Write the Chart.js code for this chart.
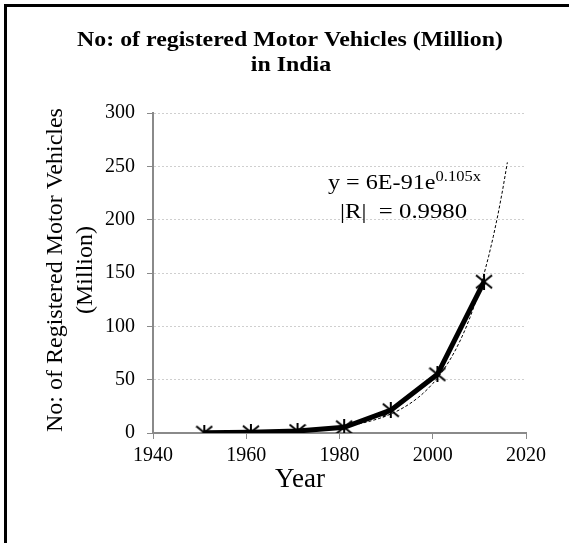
<!DOCTYPE html>
<html>
<head>
<meta charset="utf-8">
<script src="https://cdn.jsdelivr.net/npm/chart.js@4.4.0/dist/chart.umd.min.js"></script>
<style>
    body { margin: 0; background: #fff; }
    #wrap { width: 569px; height: 543px; position: relative; }
</style>
</head>
<body>
<div id="wrap"><canvas id="vehicles"></canvas></div>
<script>
// Registered motor vehicles in India (millions), census years
let years = [1951, 1961, 1971, 1981, 1991, 2001, 2011];
let vehicles = [0.3, 0.66, 1.86, 5.39, 21.37, 54.99, 141.87];

let xTicks = [1940, 1960, 1980, 2000, 2020];
let yTicks = [0, 50, 100, 150, 200, 250, 300];

let titleLines = ['No: of registered Motor Vehicles (Million)', 'in India'];
let yTitleLines = ['No: of Registered Motor Vehicles', '(Million)'];
let xTitle = 'Year';
let equationText = 'y = 6E-91e';
let equationExp = '0.105x';
let rText = '|R|  = 0.9980';

const serif = '"Liberation Serif", "Times New Roman", serif';

// exponential trendline: least squares on ln(y), carried 5 years forward
function expFit(xs, ys) {
    let n = xs.length;
    let lx = ys.map(v => Math.log(v));
    let mx = xs.reduce((a, b) => a + b, 0) / n;
    let my = lx.reduce((a, b) => a + b, 0) / n;
    let sxy = 0, sxx = 0;
    for (let i = 0; i < n; i++) {
        sxy += (xs[i] - mx) * (lx[i] - my);
        sxx += (xs[i] - mx) * (xs[i] - mx);
    }
    let b = sxy / sxx;
    let a = my - b * mx;
    return x => Math.exp(a + b * x);
}
let fit = expFit(years, vehicles);
let trend = [];
for (let yr = years[0]; yr <= years[years.length - 1] + 5; yr++) {
    trend.push({ x: yr, y: fit(yr) });
}

// asterisk marker (X with a vertical bar)
function starMarker() {
    let c = document.createElement('canvas');
    c.width = 18;
    c.height = 16;
    let g = c.getContext('2d');
    g.strokeStyle = '#000';
    g.lineWidth = 2;
    g.beginPath();
    g.moveTo(1, 1.5); g.lineTo(17, 14.5);
    g.moveTo(17, 1.5); g.lineTo(1, 14.5);
    g.moveTo(9, 0); g.lineTo(9, 16);
    g.stroke();
    return c;
}

// text drawn a little wider than the font's own metrics
function wideText(ctx, text, x, y, sx) {
    ctx.save();
    ctx.translate(x, y);
    ctx.scale(sx, 1);
    ctx.fillText(text, 0, 0);
    ctx.restore();
}

const textPlugin = {
    id: 'textPlugin',
    afterDraw(chart) {
        let ctx = chart.ctx;
        ctx.save();
        // frame edges
        ctx.fillStyle = '#000';
        ctx.fillRect(4, 4, 565, 3);
        ctx.fillRect(4, 4, 3, 539);

        ctx.textAlign = 'center';
        ctx.textBaseline = 'alphabetic';
        ctx.font = 'bold 22px ' + serif;
        wideText(ctx, titleLines[0], 290, 46, 1.085);
        wideText(ctx, titleLines[1], 291, 71, 1.085);

        ctx.font = '27px ' + serif;
        ctx.fillText(xTitle, 300, 487);

        ctx.save();
        ctx.translate(56, 270);
        ctx.rotate(-Math.PI / 2);
        ctx.font = '24px ' + serif;
        ctx.textBaseline = 'middle';
        ctx.fillText(yTitleLines[0], 0, 0);
        ctx.fillText(yTitleLines[1], 0, 30);
        ctx.restore();

        ctx.textAlign = 'left';
        ctx.font = '21px ' + serif;
        wideText(ctx, equationText, 328, 189, 1.15);
        let w = ctx.measureText(equationText).width * 1.15;
        ctx.font = '15px ' + serif;
        wideText(ctx, equationExp, 328 + w, 181, 1.1);
        ctx.font = '21px ' + serif;
        wideText(ctx, rText, 340, 218, 1.18);
        ctx.restore();
    }
};

new Chart(document.getElementById('vehicles'), {
    type: 'scatter',
    data: {
        datasets: [{
            label: 'Trend',
            data: trend,
            showLine: true,
            borderColor: '#000',
            borderWidth: 1,
            borderDash: [3, 2],
            pointRadius: 0,
            fill: false,
            order: 0
        }, {
            label: 'Vehicles',
            data: years.map((yr, i) => ({ x: yr, y: vehicles[i] })),
            showLine: true,
            borderColor: '#000',
            borderWidth: 5,
            pointStyle: starMarker(),
            pointRadius: 8,
            fill: false,
            order: 1
        }]
    },
    options: {
        responsive: true,
        maintainAspectRatio: false,
        animation: false,
        layout: { padding: { left: 0, top: 113, right: 43, bottom: 80 } },
        plugins: {
            legend: { display: false },
            tooltip: { enabled: false }
        },
        scales: {
            x: {
                type: 'linear',
                min: xTicks[0],
                max: xTicks[xTicks.length - 1],
                afterBuildTicks: s => { s.ticks = xTicks.map(v => ({ value: v })); },
                afterFit: s => { s.height = 30; },
                grid: { drawOnChartArea: false, drawTicks: true, tickLength: 6, tickColor: '#8a8a8a' },
                border: { color: '#8a8a8a', width: 2 },
                ticks: {
                    color: '#000',
                    padding: 5,
                    maxRotation: 0,
                    font: { family: serif, size: 20 },
                    callback: v => v
                }
            },
            y: {
                min: yTicks[0],
                max: yTicks[yTicks.length - 1],
                afterBuildTicks: s => { s.ticks = yTicks.map(v => ({ value: v })); },
                afterFit: s => { s.width = 153; },
                grid: { color: '#cfcfcf', lineWidth: 1, tickLength: 6, tickColor: '#8a8a8a' },
                border: { color: '#8a8a8a', width: 2, dash: [2, 2] },
                ticks: {
                    color: '#000',
                    padding: 12,
                    font: { family: serif, size: 20 }
                }
            }
        }
    },
    plugins: [textPlugin]
});
</script>
</body>
</html>
